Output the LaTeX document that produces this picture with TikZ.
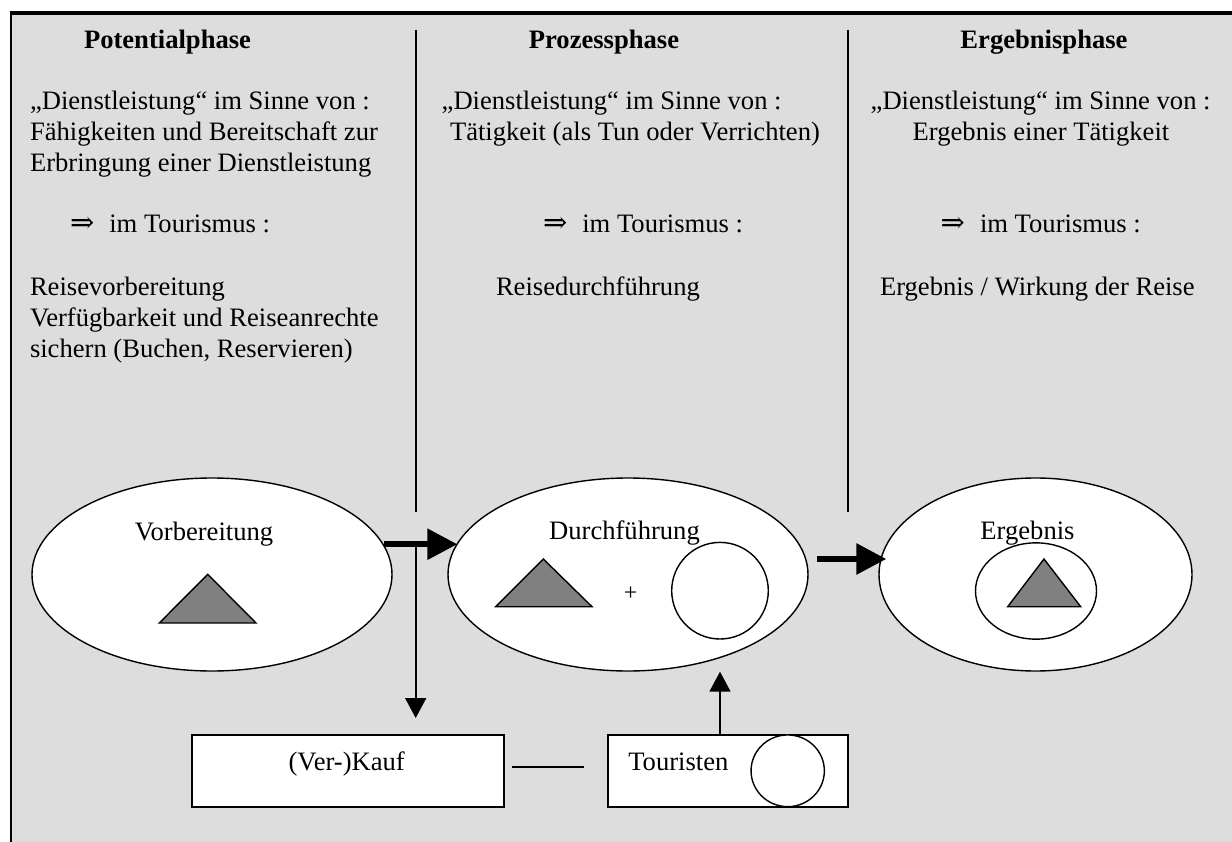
\documentclass[tikz,border=0pt]{standalone}
\usepackage{fontspec}
\setmainfont{Liberation Serif}
\newfontfamily\arrowfont{DejaVu Serif}
\usetikzlibrary{shapes.geometric,arrows.meta,calc}
\definecolor{panelgray}{RGB}{221,221,221}
\definecolor{markgray}{RGB}{128,128,128}
\newcommand{\implies}{{\arrowfont\fontsize{29}{30.8}\selectfont ⇒}\hspace{15pt}}
\tikzset{
  txt/.style={inner sep=0pt, outer sep=0pt, font=\fontsize{26.6}{30.8}\selectfont, anchor=base west},
  ctxt/.style={txt, anchor=base},
  head/.style={ctxt, font=\fontsize{26.6}{30.8}\selectfont\bfseries},
  phase/.style={ellipse, draw, fill=white, line width=1.4pt, inner sep=0pt},
  box/.style={rectangle, draw, fill=white, line width=2pt, inner sep=0pt, minimum height=71.7pt},
  divider/.style={line width=1.8pt},
  flow/.style={line width=6pt, -{Triangle[length=30pt,width=30pt]}},
  link/.style={line width=1.8pt, -{Triangle[length=20pt,width=21pt]}},
  plain/.style={line width=1.8pt},
  tri/.style={fill=markgray, draw, line width=1.4pt, line join=miter}
}
\begin{document}
\begin{tikzpicture}[x=1pt, y=-1pt]
\useasboundingbox (0,0) rectangle (1232,842);

% panel
\fill[panelgray] (10.5,13) rectangle (1232,842);
\draw[line width=4pt] (9.5,13) -- (1232,13);
\draw[line width=2pt] (10.5,12) -- (10.5,842);

% column dividers
\coordinate (d1t) at (415.7,30);
\coordinate (d1b) at (415.7,512);
\coordinate (d2t) at (848.3,30);
\coordinate (d2b) at (848.3,512);
\draw[divider] (d1t) -- (d1b);
\draw[divider] (d2t) -- (d2b);

% headings
\node[head] (h1) at (167.5,49) {Potentialphase};
\node[head] (h2) at (604,49) {Prozessphase};
\node[head] (h3) at (1044,49) {Ergebnisphase};

% left column
\node[txt] (l1) at (30,110) {„Dienstleistung“ im Sinne von :};
\node[txt] (l2) at (30,140.8) {Fähigkeiten und Bereitschaft zur};
\node[txt] (l3) at (30,171.6) {Erbringung einer Dienstleistung};
\node[txt] (l4) at (70,233) {\implies im Tourismus :};
\node[txt] (l5) at (30,296) {Reisevorbereitung};
\node[txt] (l6) at (30,326.8) {Verfügbarkeit und Reiseanrechte};
\node[txt] (l7) at (30,357.6) {sichern (Buchen, Reservieren)};

% middle column
\node[txt] (m1) at (441.7,110) {„Dienstleistung“ im Sinne von :};
\node[txt] (m2) at (450,140.8) {Tätigkeit (als Tun oder Verrichten)};
\node[txt] (m3) at (543,233) {\implies im Tourismus :};
\node[txt] (m4) at (496,296) {Reisedurchführung};

% right column
\node[txt] (r1) at (870.7,110) {„Dienstleistung“ im Sinne von :};
\node[ctxt] (r2) at (1041,140.8) {Ergebnis einer Tätigkeit};
\node[txt] (r3) at (940.7,233) {\implies im Tourismus :};
\node[txt] (r4) at (880,296) {Ergebnis / Wirkung der Reise};

% phase ellipses
\node[phase, minimum width=360pt, minimum height=193pt] (vorb) at (212,574.5) {};
\node[phase, minimum width=360pt, minimum height=193pt] (durch) at (628,574.5) {};
\node[phase, minimum width=313pt, minimum height=193pt] (erg) at (1035.5,574.5) {};

\node[ctxt] (vorbt) at (204,540) {Vorbereitung};
\node[ctxt] (durcht) at (624.5,539) {Durchführung};

% contents of the ellipses
\draw[tri] (207.7,574.3) -- (256,623) -- (159.3,623) -- cycle;
\draw[tri] (543.3,559) -- (592,606.7) -- (495.7,606.7) -- cycle;
\node[inner sep=0pt, font=\fontsize{24}{26}\selectfont] (plus) at (630.7,594) {+};
\node[phase, minimum width=96.6pt, minimum height=96.6pt] (dcirc) at (720,590.7) {};
\node[phase, minimum width=121pt, minimum height=96.3pt] (ecirc) at (1036,591) {};
\draw[tri] (1044,559) -- (1080.7,606.7) -- (1007.7,606.7) -- cycle;
\node[ctxt] (ergt) at (1027.5,539) {Ergebnis};

% lower boxes
\node[box, minimum width=312.3pt] (kauf) at (347.85,770.85) {};
\node[box, minimum width=240.6pt] (tour) at (728,770.85) {};
\node[ctxt] (kauft) at (346.7,770.7) {(Ver-)Kauf};
\node[txt] (tourt) at (628.3,770.7) {Touristen};
\node[phase, minimum width=73.3pt, minimum height=71.7pt] (tcirc) at (787.7,770.8) {};

% connectors
\draw[flow] (vorb.10.5) -- ($(vorb.10.5 -| durch.west)+(10,0)$);
\draw[flow] ($(durch.east)+(8,-15.5)$) -- ($(erg.west)+(8,-15.5)$);
\draw[link] (vorb.10.5 -| d1b) -- ($(kauf.north -| d1b)+(0,-16)$);
\draw[link] (tour.north -| dcirc) -- (durch.south -| dcirc);
\draw[plain] ($(kauf.east)+(7,-4)$) -- ($(tour.west)+(-23,-4)$);
\end{tikzpicture}
\end{document}
